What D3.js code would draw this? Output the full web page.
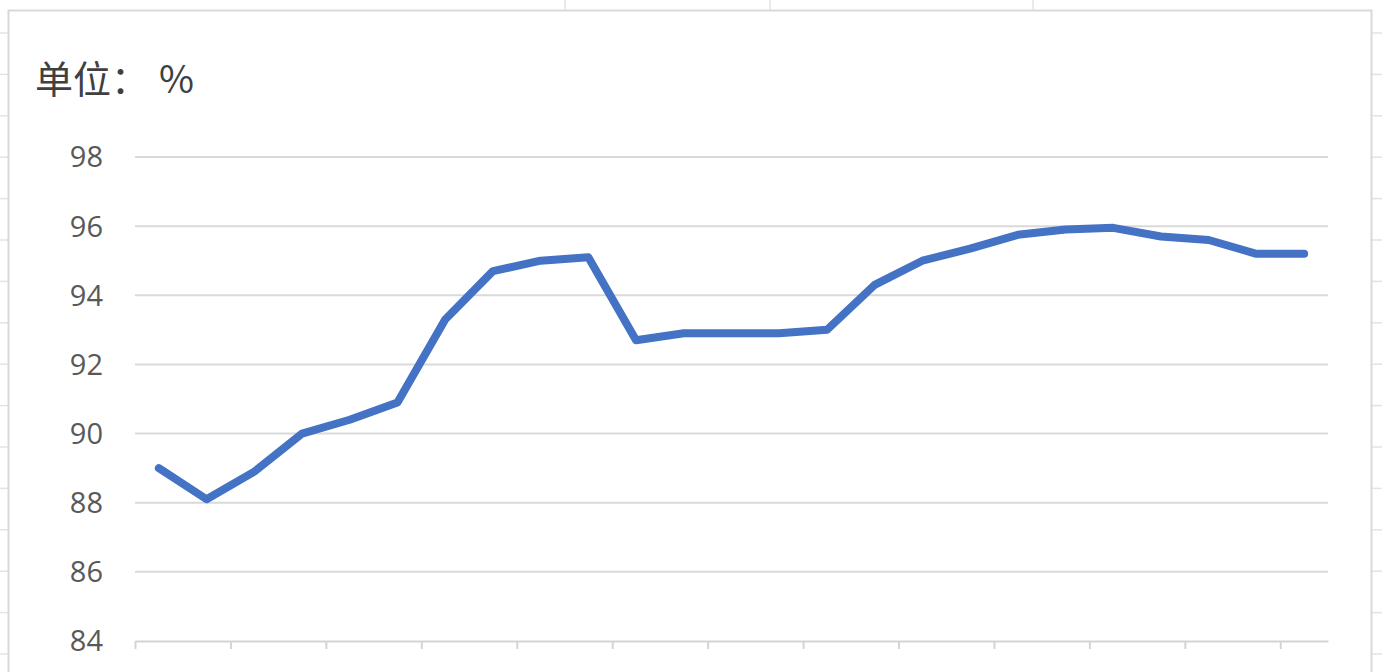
<!DOCTYPE html>
<html>
<head>
<meta charset="utf-8">
<script src="https://cdn.jsdelivr.net/npm/d3@7"></script>
<style>
  html, body { margin: 0; padding: 0; background: #fff; overflow: hidden; }
  svg { display: block; }
</style>
</head>
<body>
<svg id="chart" width="1382" height="672"></svg>
<script>
// 25 periods, category labels are cut off in the source picture
var categories = ['1', '2', '3', '4', '5', '6', '7', '8', '9', '10', '11', '12', '13',
  '14', '15', '16', '17', '18', '19', '20', '21', '22', '23', '24', '25'];
var rateValues = [89.0, 88.1, 88.9, 90.0, 90.4, 90.9, 93.3, 94.7, 95.0, 95.1, 92.7, 92.9, 92.9,
  92.9, 93.0, 94.3, 95.0, 95.35, 95.75, 95.9, 95.95, 95.7, 95.6, 95.2, 95.2];
var yTicks = [84, 86, 88, 90, 92, 94, 96, 98];
var unitLabel = ['单位：', '%'];

const width = 1382;
const height = 672;

var svg = d3.select('#chart');

// spreadsheet cells behind the chart object
var sheet = svg.append('g').attr('stroke', '#e3e3e3').attr('stroke-width', 1.5);
[565, 770, 1033].forEach(function(x) {
  sheet.append('line').attr('x1', x).attr('x2', x).attr('y1', 0).attr('y2', 10);
});
d3.range(33, height, 41.4).forEach(function(y) {
  sheet.append('line').attr('x1', 0).attr('x2', 8).attr('y1', y).attr('y2', y);
  sheet.append('line').attr('x1', 1372).attr('x2', width).attr('y1', y).attr('y2', y);
});

// chart frame
svg.append('rect')
  .attr('x', 8.5).attr('y', 10.5)
  .attr('width', 1363).attr('height', 700)
  .attr('fill', '#fff')
  .attr('stroke', '#d9d9d9')
  .attr('stroke-width', 2);

var x = d3.scaleBand().domain(categories).range([135, 1328]);
var xEdge = d3.scaleLinear().domain([0, categories.length]).range([135, 1328]);
var y = d3.scaleLinear().domain([84, 98]).range([641, 157]);

// horizontal gridlines
svg.append('g')
  .selectAll('line')
  .data(yTicks.slice(1))
  .enter().append('line')
    .attr('x1', 135).attr('x2', 1328)
    .attr('y1', function(d) { return y(d); })
    .attr('y2', function(d) { return y(d); })
    .attr('stroke', '#d9d9d9')
    .attr('stroke-width', 2);

// y labels
svg.append('g')
  .selectAll('text')
  .data(yTicks)
  .enter().append('text')
    .attr('x', 103)
    .attr('y', function(d) { return y(d); })
    .attr('dy', '0.36em')
    .attr('text-anchor', 'end')
    .attr('font-family', '"Open Sans", "Noto Sans", sans-serif')
    .attr('font-size', 29)
    .attr('fill', '#595959')
    .text(function(d) { return d; });

// category axis with a tick every two categories
var xAxis = d3.axisBottom(xEdge)
  .tickValues(d3.range(0, categories.length, 2))
  .tickFormat('')
  .tickSize(8)
  .tickSizeOuter(0);

svg.append('g')
  .attr('transform', 'translate(0,' + y(84) + ')')
  .call(xAxis)
  .call(function(g) {
    g.select('.domain').attr('stroke', '#d4d4d4').attr('stroke-width', 2);
    g.selectAll('.tick line').attr('stroke', '#d4d4d4').attr('stroke-width', 2);
  });

// series line
var line = d3.line()
  .x(function(d, i) { return x(categories[i]) + x.bandwidth() / 2; })
  .y(function(d) { return y(d); });

svg.append('path')
  .datum(rateValues)
  .attr('d', line)
  .attr('fill', 'none')
  .attr('stroke', '#4472c4')
  .attr('stroke-width', 8)
  .attr('stroke-linejoin', 'round')
  .attr('stroke-linecap', 'round');

// unit title
var title = svg.append('text')
  .attr('x', 35)
  .attr('y', 93)
  .attr('font-family', '"Noto Sans CJK SC", sans-serif')
  .attr('font-size', 38)
  .attr('fill', '#404040');
title.append('tspan').text(unitLabel[0]);
title.append('tspan').attr('dx', 10).text(unitLabel[1]);
</script>
</body>
</html>
